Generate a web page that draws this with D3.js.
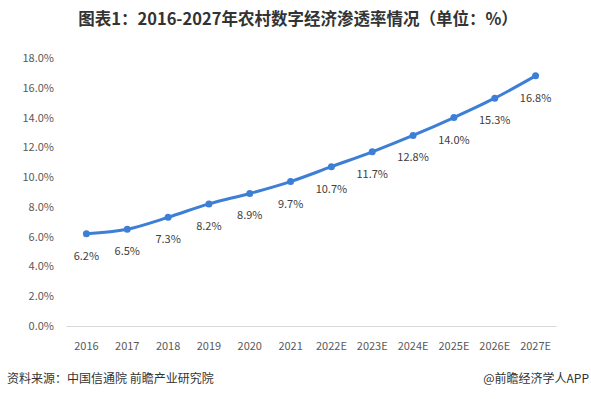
<!DOCTYPE html>
<html><head><meta charset="utf-8">
<script src="https://cdn.jsdelivr.net/npm/d3@7"></script>
<style>body{margin:0;background:#fff}svg{display:block}</style>
</head><body><svg id="c" width="591" height="399"></svg>
<script>
const categories = ["2016","2017","2018","2019","2020","2021","2022E","2023E","2024E","2025E","2026E","2027E"];
const values = [6.2,6.5,7.3,8.2,8.9,9.7,10.7,11.7,12.8,14.0,15.3,16.8];
const yTicks = [0,2,4,6,8,10,12,14,16,18];
const title = "图表1：2016-2027年农村数字经济渗透率情况（单位：%）";
const source = "资料来源：中国信通院 前瞻产业研究院";
const credit = "@前瞻经济学人APP";

const svg = d3.select("#c");
const font = "'Microsoft YaHei','Noto Sans CJK SC',sans-serif";
const x = d3.scaleBand().domain(categories).range([66,556]);
const y = d3.scaleLinear().domain([0,18]).range([326,58]);

svg.append("text").attr("x",298).attr("y",25).attr("text-anchor","middle")
  .attr("font-family",font).attr("font-size",16.5).attr("font-weight","bold").attr("fill","#333").text(title);

const ya = svg.append("g").attr("transform","translate(58,0)")
  .call(d3.axisLeft(y).tickValues(yTicks).tickSize(0).tickPadding(4).tickFormat(d=>d.toFixed(1)+"%"));
ya.select(".domain").remove();
ya.selectAll("text").attr("font-family",font).attr("font-size",11).attr("fill","#595959");

const xa = svg.append("g").attr("transform","translate(0,326)")
  .call(d3.axisBottom(x).tickSize(0).tickPadding(16));
xa.select(".domain").attr("stroke","#d9d9d9");
xa.selectAll("text").attr("font-family",font).attr("font-size",11).attr("fill","#595959");

const cx = d=>x(d)+x.bandwidth()/2;
const line = d3.line().x((d,i)=>cx(categories[i])).y(d=>y(d)).curve(d3.curveMonotoneX);
svg.append("path").datum(values).attr("d",line).attr("fill","none")
  .attr("stroke","#3d7fd6").attr("stroke-width",3).attr("stroke-linecap","round");
svg.selectAll("circle.p").data(values).enter().append("circle")
  .attr("cx",(d,i)=>cx(categories[i])).attr("cy",d=>y(d)).attr("r",3.5).attr("fill","#3d7fd6");
svg.selectAll("text.l").data(values).enter().append("text")
  .attr("x",(d,i)=>cx(categories[i])).attr("y",d=>y(d)+26).attr("text-anchor","middle")
  .attr("font-family",font).attr("font-size",11).attr("fill","#404040").text(d=>d.toFixed(1)+"%");

svg.append("text").attr("x",7).attr("y",383).attr("font-family",font).attr("font-size",12).attr("fill","#333").text(source);
svg.append("text").attr("x",589).attr("y",383).attr("text-anchor","end").attr("font-family",font).attr("font-size",12).attr("fill","#333").text(credit);
</script></body></html>
